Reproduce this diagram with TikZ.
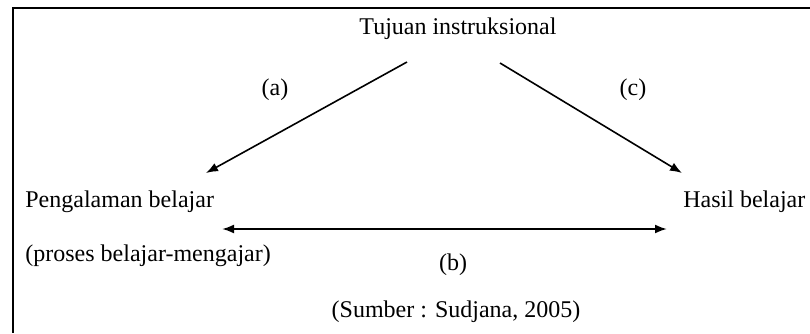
\documentclass[tikz,border=0pt]{standalone}
\usepackage{fontspec}
\setmainfont{Liberation Serif}
\usetikzlibrary{arrows.meta, positioning}

\begin{document}
\begin{tikzpicture}[
    x=0.5pt, y=-0.5pt,
    font=\fontsize{12}{14}\selectfont,
    label/.style={inner sep=0pt},
    line/.style={draw, -{Latex[length=6pt,width=4.5pt]}, line width=0.8pt},
    both/.style={draw, {Latex[length=6pt,width=4.5pt]}-{Latex[length=6pt,width=4.5pt]}, line width=1pt},
    frame/.style={draw, line width=1.4pt}
]
\useasboundingbox (0,0) rectangle (810,333);

% Frame
\draw [frame] (810,8) -- (13,8) -- (13,333);

% Nodes
\node [label, anchor=base] (tujuan) at (458,34) {Tujuan instruksional};
\node [label, anchor=base west] (pengalaman) at (25,207) {Pengalaman belajar};
\node [label, anchor=base west] (proses) at (25,261) {(proses belajar-mengajar)};
\node [label, anchor=base west] (hasil) at (683,207) {Hasil belajar};
\node [label, anchor=base] (sumber) at (456,317) {(Sumber : Sudjana, 2005)};

% Ends
\coordinate (tujuan-a) at (407,62);
\coordinate (pengalaman-a) at (206,173);
\coordinate (tujuan-c) at (500,63);
\coordinate (hasil-c) at (682,173);
\coordinate (pengalaman-b) at (222,229);
\coordinate (hasil-b) at (667,229);

% Lines
\path [line] (tujuan-a) -- (pengalaman-a);
\path [line] (tujuan-c) -- (hasil-c);
\path [both] (pengalaman-b) -- (hasil-b);

% Labels
\node [label] (a) at (275,90) {(a)};
\node [label] (c) at (633,90) {(c)};
\node [label] (b) at (453,265) {(b)};

\end{tikzpicture}
\end{document}
